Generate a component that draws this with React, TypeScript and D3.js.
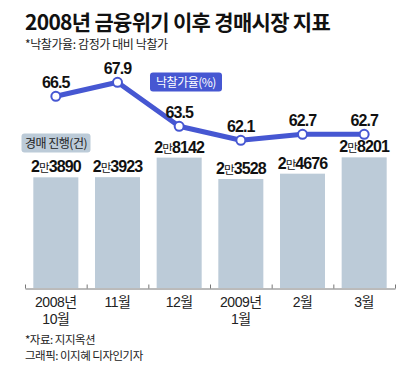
import React, { useEffect, useRef } from 'react';
import * as d3 from 'd3';

const months = ['2008년 10월', '11월', '12월', '2009년 1월', '2월', '3월'];
const monthLines = [['2008년', '10월'], ['11월'], ['12월'], ['2009년', '1월'], ['2월'], ['3월']];
const auctionCounts = [23890, 23923, 28142, 23528, 24676, 28201];
const bidRates = [66.5, 67.9, 63.5, 62.1, 62.7, 62.7];

const W = 420;
const H = 368;
const KR = '"Noto Sans CJK KR", "Noto Sans", sans-serif';
const NUM = '"Liberation Sans", Arial, sans-serif';
const MIXED = '"Liberation Sans", "Noto Sans CJK KR", sans-serif';
const LINE_BLUE = '#4657d2';
const BAR_GRAY = '#bccbd8';

// "2만3890" -> big bold digits with a small 만
function splitCount(v: number) {
  const man = Math.floor(v / 10000);
  const rest = String(v % 10000).padStart(4, '0');
  return { man: String(man), rest };
}

export default function App() {
  const axisRef = useRef<SVGGElement>(null);

  const x = d3.scaleBand<string>()
    .domain(months)
    .range([25, 395])
    .paddingInner(0.27)
    .paddingOuter(0.135);
  const cx = (i: number) => x(months[i])! + x.bandwidth() / 2;

  const yBar = d3.scaleLinear().domain([0, 30000]).range([288, 149]);
  const yLine = d3.scaleLinear().domain([60, 70]).range([161.3, 61.3]);

  const boundaries = d3.scaleLinear().domain([0, months.length]).range([25, 395]);

  const linePath = d3.line<number>()
    .x((_, i) => cx(i))
    .y(d => yLine(d))(bidRates);

  useEffect(() => {
    if (!axisRef.current) return;
    const g = d3.select(axisRef.current);
    g.selectAll('*').remove();
    g.call(
      d3.axisBottom(boundaries)
        .ticks(months.length)
        .tickSizeInner(-4)
        .tickSizeOuter(0)
        .tickFormat(() => '')
    );
    g.select('.domain').attr('stroke', '#777').attr('stroke-width', 1);
    g.selectAll('.tick line').attr('stroke', '#777');
  }, []);

  return (
    <svg
      width={W}
      height={H}
      style={{ position: 'absolute', left: 0, top: 0, background: '#fff' }}
    >
      {/* title */}
      <text x={25} y={30} fontFamily={KR} fontWeight={700} fontSize={21} letterSpacing={-0.7} fill="#111">
        2008년 금융위기 이후 경매시장 지표
      </text>
      <text x={25} y={49} fontFamily={KR} fontSize={12} letterSpacing={-0.4} fill="#222">
        *낙찰가율: 감정가 대비 낙찰가
      </text>

      {/* bars */}
      {auctionCounts.map((v, i) => (
        <rect
          key={'b' + i}
          x={x(months[i])}
          y={yBar(v)}
          width={x.bandwidth()}
          height={yBar(0) - yBar(v)}
          fill={BAR_GRAY}
        />
      ))}

      {/* bar labels */}
      {auctionCounts.map((v, i) => {
        const s = splitCount(v);
        return (
          <text
            key={'bl' + i}
            x={cx(i)}
            y={yBar(v) - 5}
            textAnchor="middle"
            fill="#111"
            letterSpacing={-0.9}
          >
            <tspan fontFamily={NUM} fontWeight={700} fontSize={16}>{s.man}</tspan>
            <tspan fontFamily={KR} fontSize={11.5}>만</tspan>
            <tspan fontFamily={NUM} fontWeight={700} fontSize={16}>{s.rest}</tspan>
          </text>
        );
      })}

      {/* axis */}
      <g ref={axisRef} transform="translate(0,288.5)" />

      {/* x labels */}
      {monthLines.map((lines, i) =>
        lines.map((l, j) => (
          <text
            key={'xl' + i + '-' + j}
            x={cx(i)}
            y={307 + j * 17}
            textAnchor="middle"
            fontFamily={MIXED}
            fontSize={14}
            letterSpacing={-0.5}
            fill="#222"
          >
            {l}
          </text>
        ))
      )}

      {/* line */}
      <path d={linePath ?? ''} fill="none" stroke={LINE_BLUE} strokeWidth={5} strokeLinejoin="round" />
      {bidRates.map((v, i) => (
        <circle
          key={'c' + i}
          cx={cx(i)}
          cy={yLine(v)}
          r={4.5}
          fill="#fff"
          stroke={LINE_BLUE}
          strokeWidth={2}
        />
      ))}
      {bidRates.map((v, i) => (
        <text
          key={'lt' + i}
          x={cx(i)}
          y={yLine(v) - 8}
          textAnchor="middle"
          fontFamily={NUM}
          fontWeight={700}
          fontSize={16}
          letterSpacing={-0.9}
          fill="#111"
        >
          {v.toFixed(1)}
        </text>
      ))}

      {/* legend boxes */}
      <rect x={150} y={72.5} width={72} height={19} rx={3} fill={LINE_BLUE} />
      <text x={186} y={86.5} textAnchor="middle" fontFamily={KR} fontSize={12} letterSpacing={-0.5} fill="#fff">
        낙찰가율(%)
      </text>
      <rect x={21.5} y={133.5} width={69} height={19} rx={3} fill={BAR_GRAY} />
      <text x={56} y={147.5} textAnchor="middle" fontFamily={KR} fontSize={12} letterSpacing={-0.5} fill="#222">
        경매 진행(건)
      </text>

      {/* footer */}
      <text x={25} y={344} fontFamily={KR} fontSize={11.5} letterSpacing={-0.5} fill="#222">
        *자료: 지지옥션
      </text>
      <text x={25} y={360} fontFamily={KR} fontSize={11.5} letterSpacing={-0.5} fill="#222">
        그래픽: 이지혜 디자인기자
      </text>
    </svg>
  );
}
